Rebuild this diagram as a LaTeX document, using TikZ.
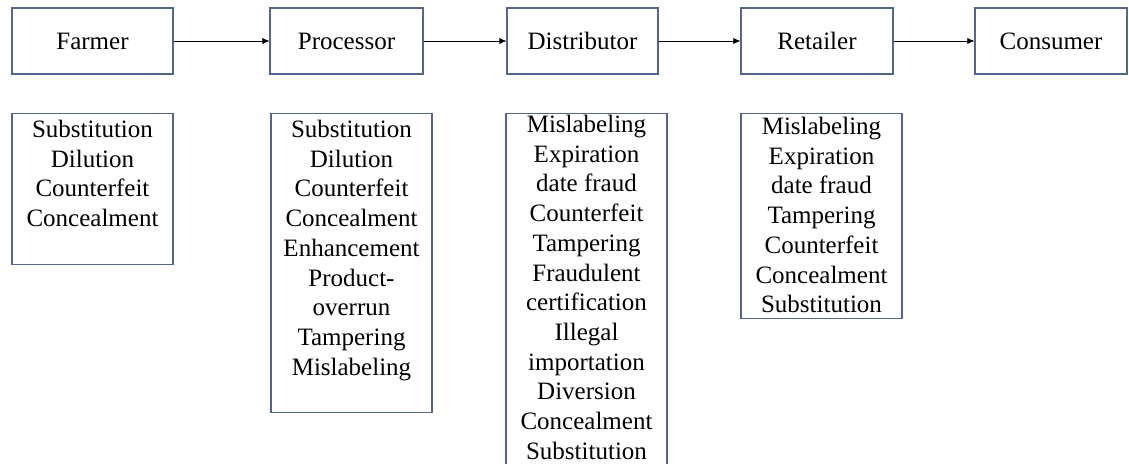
\documentclass[tikz,border=0pt]{standalone}
\usepackage{fontspec}
\setmainfont{Liberation Serif}
\usetikzlibrary{arrows.meta}
\definecolor{boxblue}{RGB}{84,102,140}
\tikzset{
  stage/.style={draw=boxblue, line width=1.2pt, minimum height=66pt, inner sep=0pt, font=\fontsize{25pt}{29.7pt}\selectfont},
  riskbox/.style={draw=boxblue, line width=1.2pt, anchor=north, inner sep=0pt, minimum width=161pt},
  risklist/.style={anchor=north, align=center, inner sep=0pt, font=\fontsize{25pt}{29.7pt}\selectfont},
  flow/.style={-{Latex[length=7pt,width=6pt]}, line width=0.6pt}
}
\begin{document}
\begin{tikzpicture}[x=1pt,y=-1pt]
            \useasboundingbox (0,0) rectangle (1129,463);
            \clip (0,0) rectangle (1129,463);
            \foreach \n/\t/\x/\w in {farmer/Farmer/92.5/161pt,processor/Processor/346.5/153pt,distributor/Distributor/582.5/151pt,retailer/Retailer/817/152pt,consumer/Consumer/1051/152pt}
                \node[stage, minimum width=\w] (\n) at (\x,41) {\t};
            \foreach \a/\b in {farmer/processor,processor/distributor,distributor/retailer,retailer/consumer}
                \draw[flow] (\a) -- (\b);

            %\node[riskbox, minimum height=360pt] (consumerrisk) at (1051,113) {};
            \node[riskbox, minimum height=151pt] (farmerrisk) at (92.5,113) {};
            \node[riskbox, minimum height=299pt] (processorrisk) at (351.5,113) {};
            \node[riskbox, minimum height=360pt] (distributorrisk) at (586.5,113) {};
            \node[riskbox, minimum height=205pt] (retailerrisk) at (821.5,113) {};

            \node[risklist] (farmerlist) at ([yshift=-7pt]farmerrisk.north)
                {Substitution\\Dilution\\Counterfeit\\Concealment};
            \node[risklist] (processorlist) at ([yshift=-7pt]processorrisk.north)
                {Substitution\\Dilution\\Counterfeit\\Concealment\\Enhancement\\Product-\\overrun\\Tampering\\Mislabeling};
            \node[risklist] (distributorlist) at ([yshift=-2pt]distributorrisk.north)
                {Mislabeling\\Expiration\\date fraud\\Counterfeit\\Tampering\\Fraudulent\\certification\\Illegal\\importation\\Diversion\\Concealment\\Substitution};
            \node[risklist] (retailerlist) at ([yshift=-4pt]retailerrisk.north)
                {Mislabeling\\Expiration\\date fraud\\Tampering\\Counterfeit\\Concealment\\Substitution};
\end{tikzpicture}
\end{document}
